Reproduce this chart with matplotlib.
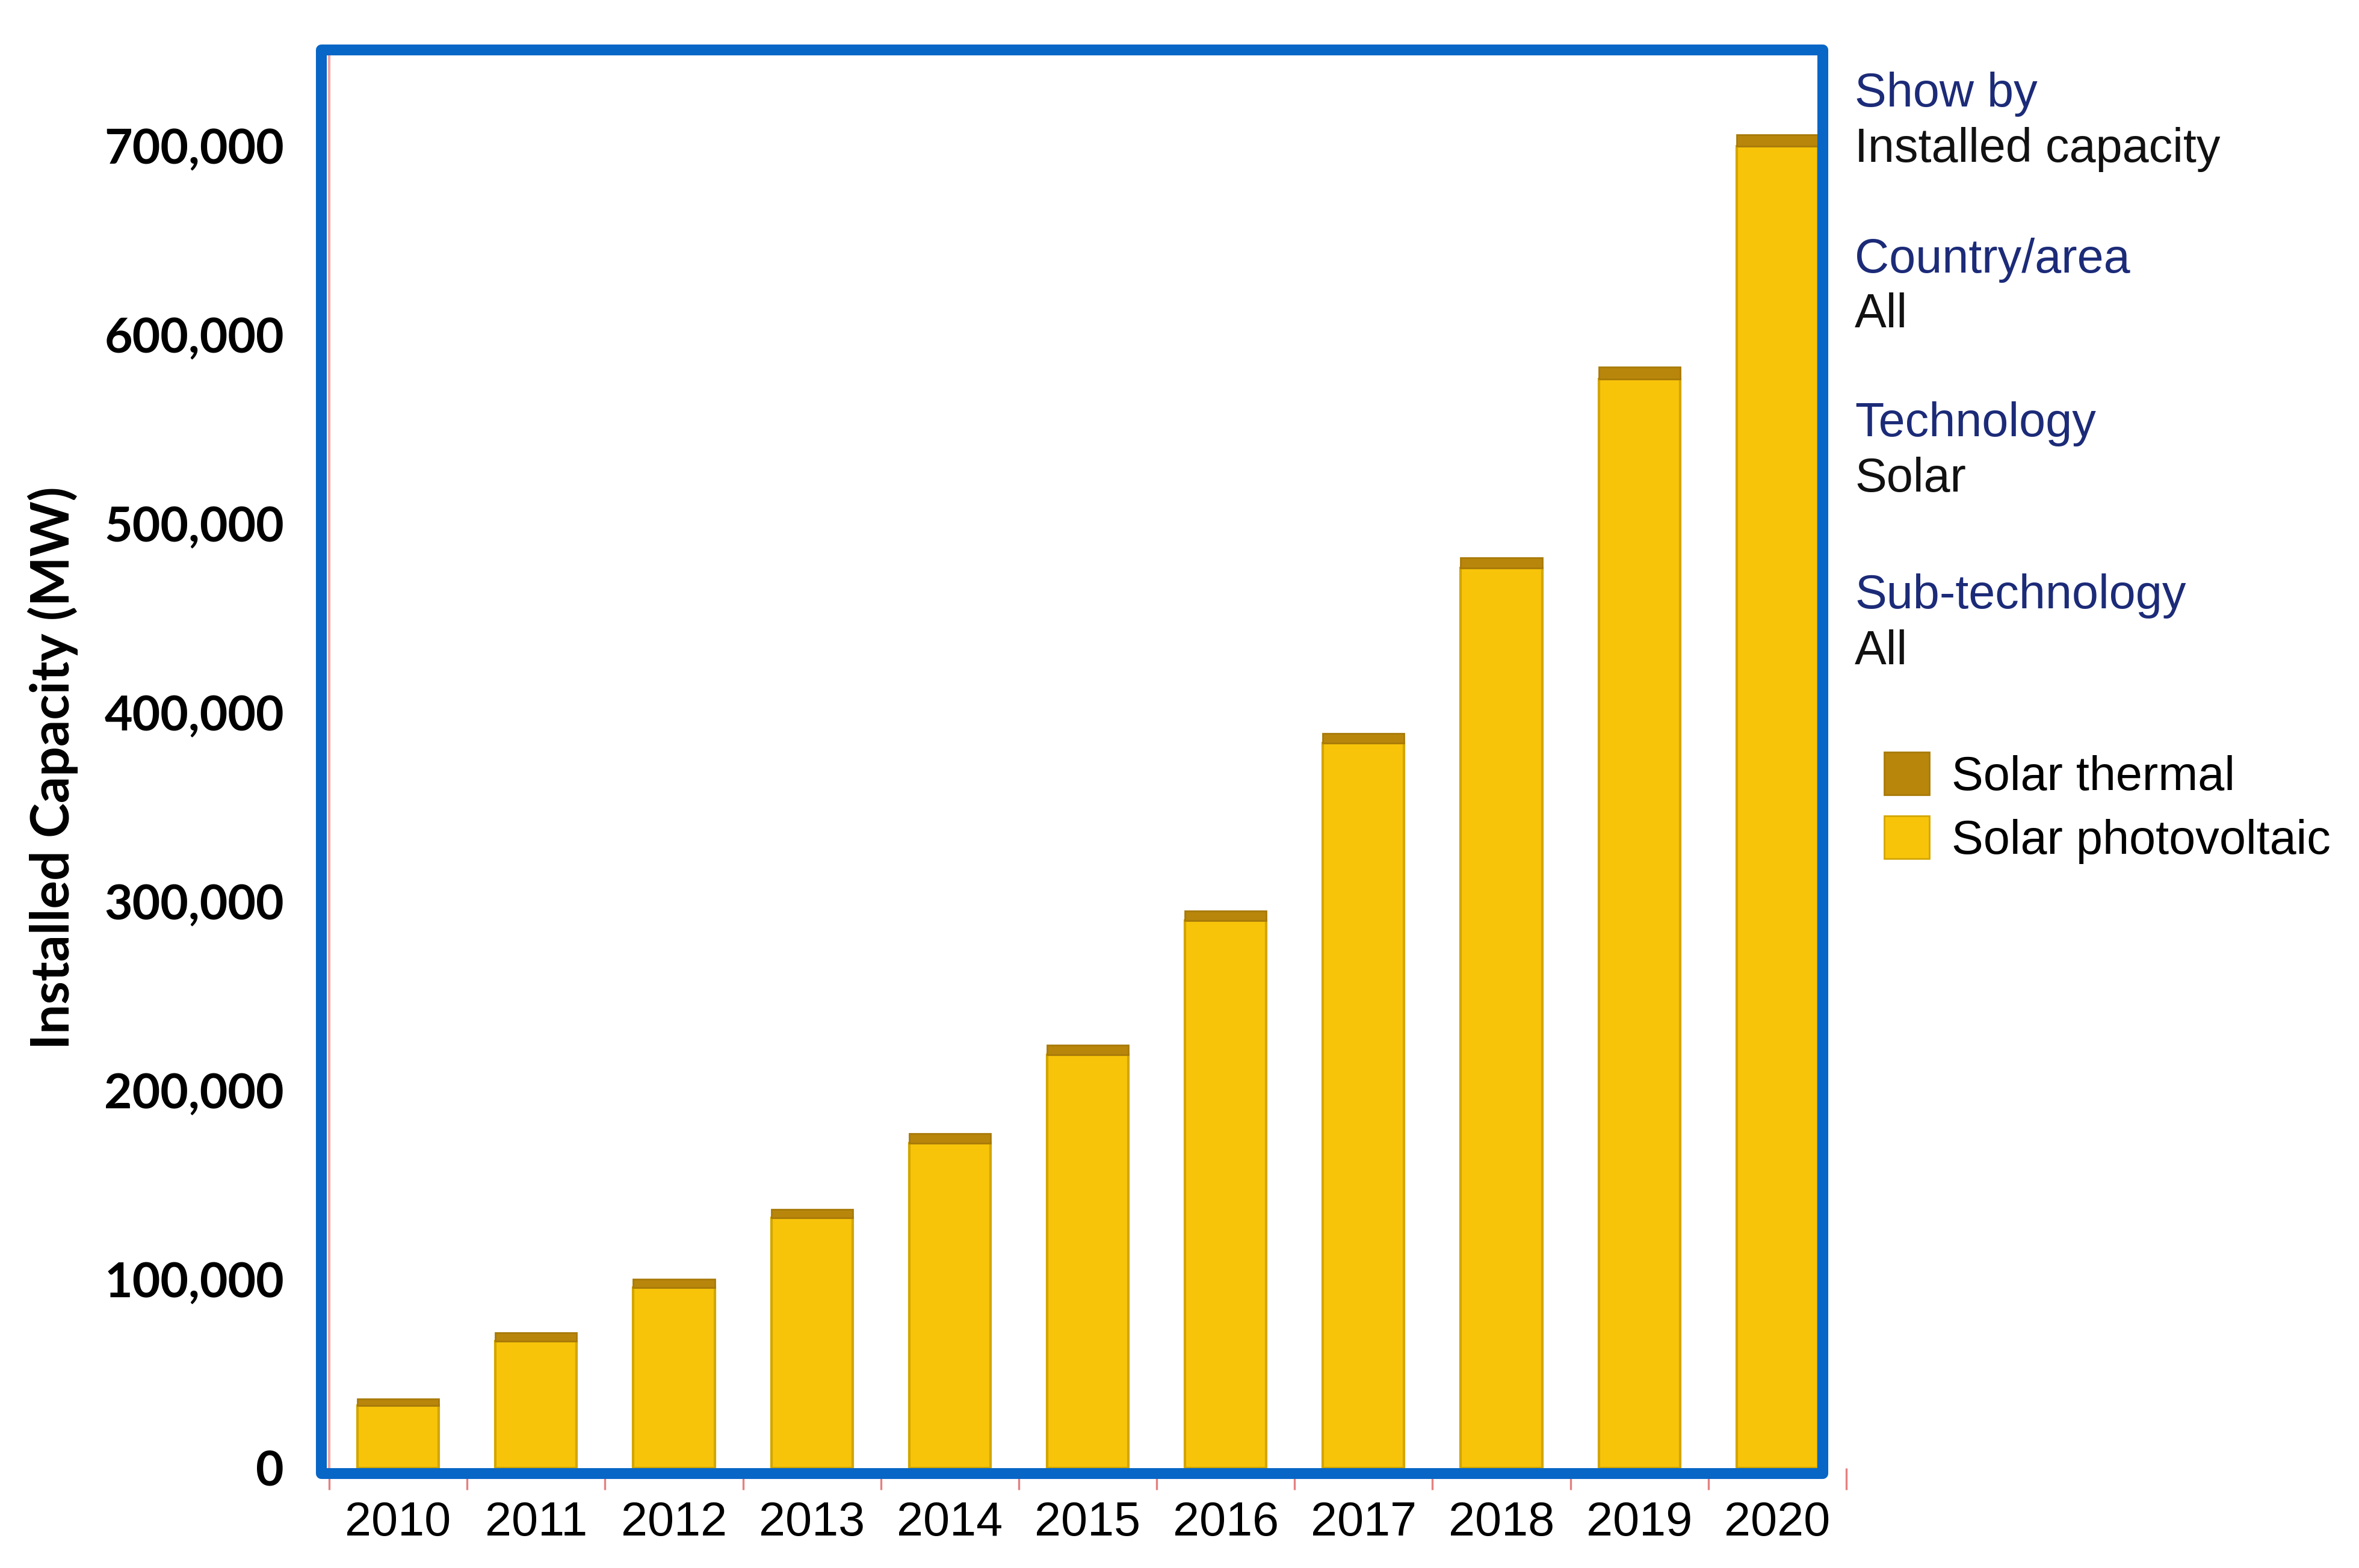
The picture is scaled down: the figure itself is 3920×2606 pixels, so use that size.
import matplotlib.pyplot as plt
import matplotlib.ticker as mticker
from matplotlib.patches import Rectangle, Patch
import numpy as np

years = ['2010', '2011', '2012', '2013', '2014', '2015',
         '2016', '2017', '2018', '2019', '2020']
# total solar capacity (MW) and the solar thermal part on top
total = [36600, 71700, 100000, 137000, 177000, 224000,
         295000, 389000, 482000, 583000, 706000]
thermal = [3500, 4500, 4500, 4500, 5000, 5000,
           5000, 5000, 5500, 6500, 6000]
pv = [t - s for t, s in zip(total, thermal)]

filters = [('Show by', 'Installed capacity'),
           ('Country/area', 'All'),
           ('Technology', 'Solar'),
           ('Sub-technology', 'All')]

W, H = 3920, 2606
fig = plt.figure(figsize=(W / 200, H / 200), dpi=200)
ax = fig.add_axes([547 / W, 1 - 2440 / H, 2521 / W, (2440 - 92) / H])

x = np.arange(len(years))
pv_col = '#f8c40a'
th_col = '#b8860b'
ax.bar(x, pv, width=0.59, color=pv_col, edgecolor='#d2a600', lw=1.5, zorder=2)
ax.bar(x, thermal, bottom=pv, width=0.59, color=th_col, edgecolor='#a87a08', lw=1, zorder=2)

ax.set_xlim(-0.5, len(years) - 0.5)
ax.set_ylim(0, 748000)

ax.set_yticks(np.arange(0, 700001, 100000))
ax.yaxis.set_major_formatter(mticker.StrMethodFormatter('{x:,.0f}'))
ax.tick_params(axis='y', length=0, pad=27)
for lab in ax.get_yticklabels():
    lab.set_fontfamily('Lato')
    lab.set_fontweight('bold')
    lab.set_fontsize(29)

ax.set_xticks(x)
ax.set_xticklabels(years, fontfamily='Liberation Sans', fontsize=28.5)
ax.tick_params(axis='x', which='major', length=0, pad=19.5)
ax.set_xticks(np.arange(-0.5, len(years)), minor=True)
ax.tick_params(axis='x', which='minor', length=13, width=1.2, color='#e58080')

ax.set_ylabel('Installed Capacity (MW)', fontfamily='Lato', fontweight='bold',
              fontsize=31.5)
ax.yaxis.set_label_coords(-(547 - 130) / 2521, 0.5 - 10 / 2348)

for s in ['top', 'right', 'bottom']:
    ax.spines[s].set_visible(False)
ax.spines['left'].set_color('#f2a5a5')
ax.spines['left'].set_linewidth(1.5)

# blue frame drawn over the chart
x0, x1 = 534 / W, 3029 / W
y0, y1 = 1 - 2449 / H, 1 - 83 / H
fig.add_artist(Rectangle((x0, y0), x1 - x0, y1 - y0, transform=fig.transFigure,
                         fill=False, edgecolor='#0866c6', lw=6.5,
                         joinstyle='round', zorder=10))

# filter panel on the right
ys = [156, 432, 705, 991]
for (head, val), yy in zip(filters, ys):
    fig.text(3082 / W, 1 - yy / H, head, color='#1c2b78', fontsize=28.5,
             fontfamily='Liberation Sans', va='center', ha='left')
    fig.text(3082 / W, 1 - (yy + 92) / H, val, color='#111111', fontsize=28.5,
             fontfamily='Liberation Sans', va='center', ha='left')

handles = [Patch(facecolor=th_col, edgecolor='#a87a08', label='Solar thermal'),
           Patch(facecolor=pv_col, edgecolor='#d2a600', label='Solar photovoltaic')]
fig.legend(handles=handles, loc='upper left', bbox_to_anchor=(3131 / W, 1 - 1250 / H),
           frameon=False, borderpad=0, borderaxespad=0, handlelength=0.95,
           handleheight=1.0, handletextpad=0.46, labelspacing=0.34,
           prop={'family': 'Liberation Sans', 'size': 28.5})

fig.savefig('out.png', dpi=200, facecolor='white')
